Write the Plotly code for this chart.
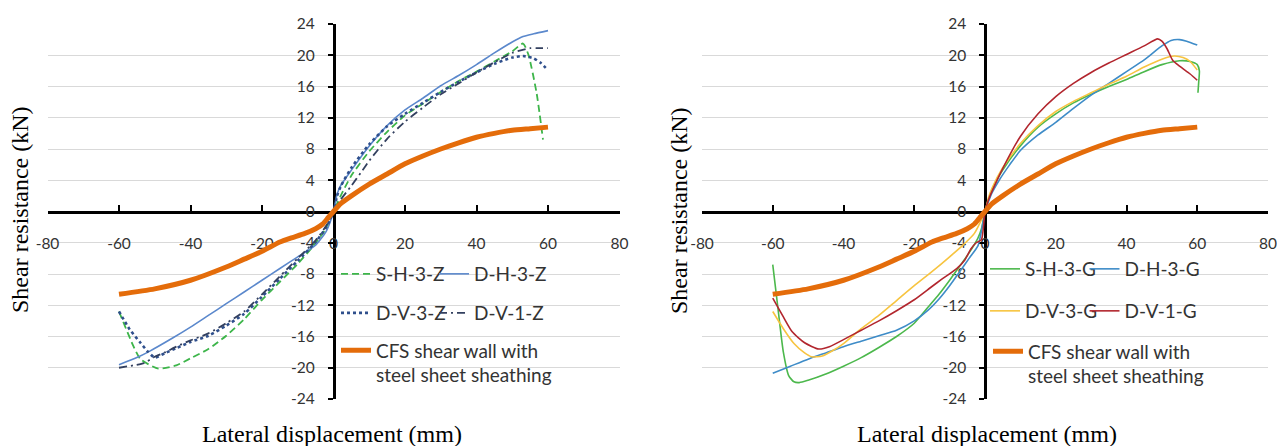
import plotly.graph_objects as go

# ---------------- data ----------------
# CFS shear wall with steel sheet sheathing (same curve on both panels)
cfs_x = [-60, -50, -40, -30, -25, -20, -15, -12, -8, -5, -3, -1.5, 0, 2, 5, 10, 15, 20, 25, 30, 35, 40, 45, 50, 55, 60]
cfs_y = [-10.6, -9.9, -8.8, -7.1, -6.1, -5.1, -3.9, -3.4, -2.8, -2.2, -1.6, -0.8, 0, 1.0, 2.0, 3.5, 4.8, 6.1, 7.1, 8.0, 8.8, 9.5, 10.0, 10.4, 10.6, 10.8]

# Left panel (Z series)
shz_x = [-60, -56, -54, -49, -44, -40, -35, -30, -25, -20, -15, -10, -6, -3, -1.5, 0, 2, 5, 10, 15, 20, 25, 30, 35, 40, 45, 50, 53, 54.5, 56.8, 58.6]
shz_y = [-12.8, -17.2, -18.9, -20.1, -19.7, -18.8, -17.6, -15.9, -13.8, -11.3, -9.0, -6.7, -4.6, -2.8, -1.6, 0, 2.0, 4.6, 7.7, 10.2, 12.3, 13.8, 15.3, 16.7, 17.9, 19.2, 20.5, 21.5, 20.1, 15.2, 9.2]

dhz_x = [-60, -55, -51.5, -45, -40, -35, -30, -25, -20, -15, -10, -5, -2, 0, 1, 2, 5, 10, 15, 20, 25, 30, 35, 40, 45, 50, 53, 56, 60]
dhz_y = [-19.6, -18.7, -17.9, -16.2, -14.8, -13.3, -11.8, -10.3, -8.8, -7.3, -5.8, -4.3, -2.5, 0, 2.2, 3.3, 5.3, 8.4, 11.0, 13.0, 14.5, 16.1, 17.4, 18.8, 20.3, 21.7, 22.4, 22.75, 23.15]

dv3z_x = [-60, -57, -54, -52, -50, -47, -44, -40, -35, -30, -25, -20, -15, -10, -5, -2, 0, 1, 2, 5, 10, 15, 20, 25, 30, 35, 40, 45, 50, 53, 56, 58, 60]
dv3z_y = [-12.8, -15.1, -16.8, -17.9, -18.7, -18.1, -17.5, -16.7, -15.9, -14.6, -13.1, -10.9, -8.6, -6.3, -3.9, -2.0, 0, 2.0, 3.2, 5.6, 8.6, 10.9, 12.5, 13.9, 15.3, 16.6, 17.8, 18.9, 19.7, 19.9, 19.6, 19.0, 18.1]

dv1z_x = [-60, -56, -53, -50, -47, -44, -40, -35, -30, -25, -20, -15, -10, -5, -2, 0, 2, 5, 8, 10, 15, 20, 25, 30, 35, 40, 45, 50, 55, 57, 60]
dv1z_y = [-20.0, -19.7, -19.4, -18.6, -18.0, -17.3, -16.5, -15.6, -14.3, -12.8, -10.6, -8.3, -6.0, -3.7, -1.8, 0, 1.5, 3.3, 5.2, 6.5, 9.3, 11.5, 13.3, 15.0, 16.4, 17.8, 19.1, 20.3, 20.9, 20.9, 20.9]

# Right panel (G series)
shg_x = [-60, -58.5, -57, -55.5, -54, -52.5, -50, -45, -40, -35, -30, -25, -20, -16, -13, -10, -7, -4.5, -2, -1, 0, 2, 5, 10, 15, 20, 25, 30, 35, 40, 45, 50, 55, 58, 60, 60.6, 60.4, 60.2]
shg_y = [-6.8, -12.5, -18.0, -21.0, -21.8, -21.9, -21.6, -20.8, -19.8, -18.7, -17.4, -16.0, -14.3, -12.2, -10.6, -8.8, -6.9, -5.3, -3.4, -2.2, 0, 2.8, 5.3, 8.4, 10.8, 12.5, 13.9, 15.0, 16.0, 16.9, 17.9, 18.8, 19.3, 19.2, 18.8, 18.0, 16.5, 15.2]

dhg_x = [-60, -55, -50, -45, -40, -35, -30, -25, -20, -16, -13, -10, -7, -4.5, -2, -1, 0, 1, 2, 4, 7, 10, 15, 20, 25, 30, 35, 40, 45, 48, 50, 52.6, 55, 57, 60]
dhg_y = [-20.7, -19.8, -18.9, -18.1, -17.3, -16.6, -15.9, -15.2, -14.0, -12.6, -11.2, -9.5, -7.6, -6.0, -4.4, -2.5, 0, 1.3, 2.4, 4.0, 6.0, 7.8, 9.8, 11.4, 13.2, 14.9, 16.4, 17.9, 19.4, 20.5, 21.2, 21.9, 22.0, 21.8, 21.3]

dv3g_x = [-60, -57, -54, -51, -49, -46, -43, -40, -35, -30, -25, -20, -15, -10, -6, -3, 0, 1, 2, 5, 10, 15, 20, 25, 30, 35, 40, 45, 50, 53.5, 56, 58, 60]
dv3g_y = [-12.8, -15.0, -16.9, -18.1, -18.6, -18.5, -17.8, -16.9, -15.0, -13.3, -11.4, -9.5, -7.7, -5.8, -4.2, -2.8, 0, 1.8, 3.0, 5.6, 8.7, 11.0, 12.8, 14.1, 15.2, 16.3, 17.3, 18.5, 19.5, 19.9, 19.7, 19.2, 18.1]

dv1g_x = [-60, -57, -54.5, -51, -47, -44, -40, -35, -30, -25, -20, -15, -12.3, -8, -5.7, -4, -2.5, -1, 0, 1, 2, 5, 10, 15, 20, 25, 30, 35, 40, 45, 48.8, 50, 51.5, 53, 55, 58, 60]
dv1g_y = [-11.1, -13.5, -15.4, -16.8, -17.6, -17.3, -16.4, -15.2, -14.0, -12.7, -11.3, -9.6, -8.7, -7.3, -6.2, -4.8, -4.0, -3.6, 0, 1.5, 2.6, 5.5, 9.6, 12.5, 14.7, 16.4, 17.8, 19.0, 20.1, 21.2, 22.1, 21.8, 20.8, 19.4, 18.6, 17.6, 16.8]

x_ticks = [-80, -60, -40, -20, 0, 20, 40, 60, 80]
y_ticks = [-24, -20, -16, -12, -8, -4, 0, 4, 8, 12, 16, 20, 24]

x_title = "Lateral displacement (mm)"
y_title = "Shear resistance (kN)"
cfs_name = "CFS shear wall with<br>steel sheet sheathing"

# ---------------- layout helpers ----------------
W, H = 1277, 446
XDOM1 = [47.5 / W, 619.5 / W]
XDOM2 = [702 / W, 1268 / W]
YDOM = [1 - 399 / H, 1 - 24 / H]

ORANGE = "#E46C0A"
TICKFONT = dict(family="Lato, Open Sans, sans-serif", size=15.5, color="#333333")
LEGFONT = dict(family="Lato, Open Sans, sans-serif", size=19, color="#333333")
SERIF = dict(family="Liberation Serif, Times New Roman, serif", size=24, color="#000000")

fig = go.Figure()


def add(x, y, name, color, width, dash, xa, ya, legend, lw=None):
    fig.add_trace(go.Scatter(
        x=x, y=y, name=name, mode="lines",
        line=dict(color=color, width=width, dash=dash, shape="spline", smoothing=0.6),
        xaxis=xa, yaxis=ya, legend=legend, showlegend=True, legendwidth=lw,
    ))


# Left panel
add(shz_x, shz_y, "S-H-3-Z", "#3DB54A", 1.8, "7px,4px", "x", "y", "legend", lw=53)
add(dhz_x, dhz_y, "D-H-3-Z", "#5B88CC", 1.6, "solid", "x", "y", "legend")
add(dv3z_x, dv3z_y, "D-V-3-Z", "#2F4F8C", 2.6, "dot", "x", "y", "legend2", lw=53)
add(dv1z_x, dv1z_y, "D-V-1-Z", "#33405F", 1.8, "8px,4px,2px,4px", "x", "y", "legend2")
add(cfs_x, cfs_y, cfs_name, ORANGE, 5, "solid", "x", "y", "legend3")

# Right panel
add(shg_x, shg_y, "S-H-3-G", "#4CB84C", 1.6, "solid", "x2", "y2", "legend4", lw=54.5)
add(dhg_x, dhg_y, "D-H-3-G", "#3E8CC8", 1.6, "solid", "x2", "y2", "legend4")
add(dv3g_x, dv3g_y, "D-V-3-G", "#F7C440", 1.6, "solid", "x2", "y2", "legend5", lw=54.5)
add(dv1g_x, dv1g_y, "D-V-1-G", "#B2262E", 1.6, "solid", "x2", "y2", "legend5")
add(cfs_x, cfs_y, cfs_name, ORANGE, 5, "solid", "x2", "y2", "legend6")


def xaxis_cfg(dom):
    return dict(
        domain=dom, range=[-80, 80], anchor="free", position=(YDOM[0] + YDOM[1]) / 2,
        tickvals=x_ticks, ticktext=[str(v) for v in x_ticks],
        showline=True, linecolor="#000000", linewidth=2.5,
        ticks="inside", ticklen=6, tickwidth=2, tickcolor="#000000",
        ticklabelstandoff=17, tickfont=TICKFONT, automargin=False,
        showgrid=False, zeroline=False, fixedrange=True, layer="below traces",
    )


def yaxis_cfg(dom):
    return dict(
        domain=YDOM, range=[-24, 24], anchor="free", position=(dom[0] + dom[1]) / 2,
        tickvals=y_ticks, ticktext=[str(v) for v in y_ticks],
        showline=True, linecolor="#000000", linewidth=2.5,
        ticks="outside", ticklen=5, tickwidth=2, tickcolor="#000000",
        ticklabelstandoff=10, tickfont=TICKFONT, automargin=False,
        showgrid=True, gridcolor="#D9D9D9", gridwidth=1,
        zeroline=False, fixedrange=True, layer="below traces",
    )


def leg(xpx, ypx):
    return dict(
        x=xpx / W, y=1 - ypx / H, xanchor="left", yanchor="middle",
        orientation="h", entrywidth=0, entrywidthmode="pixels",
        font=LEGFONT, bgcolor="rgba(0,0,0,0)", borderwidth=0,
        valign="top", itemclick=False, itemdoubleclick=False,
    )


fig.update_layout(
    width=W, height=H, autosize=False,
    margin=dict(l=0, r=0, t=0, b=0, pad=0, autoexpand=False),
    paper_bgcolor="#FFFFFF", plot_bgcolor="#FFFFFF",
    xaxis=xaxis_cfg(XDOM1), yaxis=yaxis_cfg(XDOM1),
    xaxis2=xaxis_cfg(XDOM2), yaxis2=yaxis_cfg(XDOM2),
    legend=leg(336, 274),
    legend2=leg(336, 313),
    legend3=leg(336, 363),
    legend4=leg(985, 269),
    legend5=leg(985, 311),
    legend6=leg(988, 364),
    showlegend=True,
    hovermode=False,
)

annos = [
    dict(text=x_title, x=331.7 / W, y=1 - 433.5 / H),
    dict(text=x_title, x=987 / W, y=1 - 433.5 / H),
    dict(text=y_title, x=20 / W, y=1 - 210 / H, textangle=-90),
    dict(text=y_title, x=679 / W, y=1 - 210 / H, textangle=-90),
]
for a in annos:
    fig.add_annotation(xref="paper", yref="paper", showarrow=False,
                       xanchor="center", yanchor="middle", font=SERIF, **a)

# remove the default 8px page margin so the 1277x446 figure fills the window exactly
fig.write_html("out.html",
               config={"displayModeBar": False, "staticPlot": False},
               post_script="document.body.style.margin='0px';document.body.style.overflow='hidden';")
